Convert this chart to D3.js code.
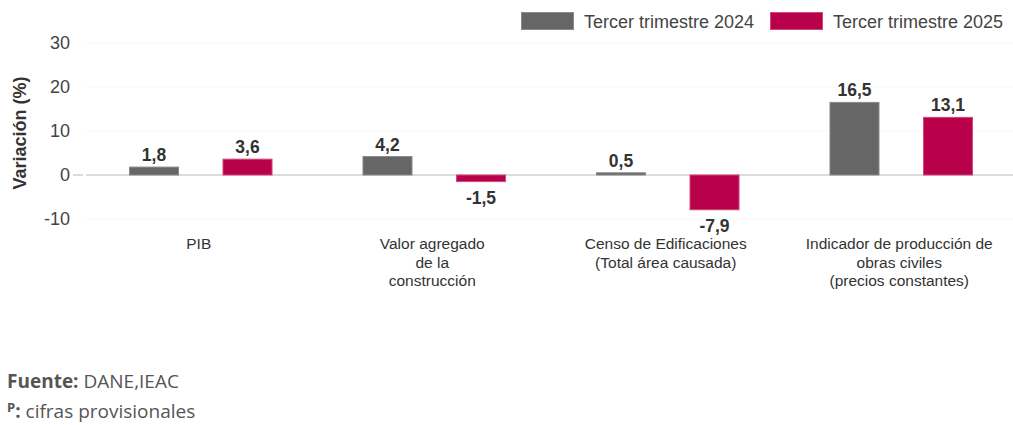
<!DOCTYPE html>
<html>
<head>
<meta charset="utf-8">
<script src="https://cdn.jsdelivr.net/npm/d3@7"></script>
<style>
  body { margin: 0; background: #fff; }
  svg { display: block; }
</style>
</head>
<body>
<div id="chart"></div>
<script>
// data
var categories = ["PIB", "Valor agregado\nde la\nconstrucción", "Censo de Edificaciones\n(Total área causada)", "Indicador de producción de\nobras civiles\n(precios constantes)"];
var seriesNames = ["Tercer trimestre 2024", "Tercer trimestre 2025"];
var values2024 = [1.8, 4.2, 0.5, 16.5];
var values2025 = [3.6, -1.5, -7.9, 13.1];
var yTicks = [-10, 0, 10, 20, 30];

var colors = ["#666666", "#b8004b"];
var strokes = ["#8a8a8a", "#d04a7a"];

var width = 1013, height = 425;

// comma decimals, plain hyphen for negatives
function fmt(v) {
    return d3.format(".1f")(v).replace("−", "-").replace(".", ",");
}

var svg = d3.select("#chart").append("svg")
    .attr("width", width)
    .attr("height", height)
    .style("font-family", "'Liberation Sans', Arial, sans-serif");

var x = d3.scaleBand()
    .domain(categories)
    .range([84, 1018]);

var xInner = d3.scaleBand()
    .domain(seriesNames)
    .range([0, x.bandwidth()])
    .paddingInner(0.465)
    .paddingOuter(0.481);

var y = d3.scaleLinear()
    .domain([-10, 30])
    .range([219, 43]);

// faint gridlines
svg.append("g")
    .selectAll("line")
    .data(yTicks.filter(function(d) { return d != 0; }))
    .enter()
    .append("line")
        .attr("x1", 86)
        .attr("x2", width)
        .attr("y1", function(d) { return y(d); })
        .attr("y2", function(d) { return y(d); })
        .attr("stroke", "#f7f7f7");

// y axis labels
var yAxis = svg.append("g")
    .attr("transform", "translate(70,0)")
    .call(d3.axisLeft(y).tickValues(yTicks).tickSize(0).tickPadding(0)
        .tickFormat(function(d) { return String(d); }));
yAxis.select(".domain").remove();
yAxis.selectAll("text")
    .attr("font-size", "18px")
    .attr("fill", "#444")
    .attr("font-family", "'Liberation Sans', Arial, sans-serif");

// zero tick and line
svg.append("line")
    .attr("x1", 73).attr("x2", 83)
    .attr("y1", y(0)).attr("y2", y(0))
    .attr("stroke", "#d0d0d0").attr("stroke-width", 1.5);
svg.append("line")
    .attr("x1", 86).attr("x2", width)
    .attr("y1", y(0)).attr("y2", y(0))
    .attr("stroke", "#d0d0d0").attr("stroke-width", 1.5);

// y axis title
svg.append("text")
    .attr("transform", "translate(26,133) rotate(-90)")
    .attr("text-anchor", "middle")
    .attr("font-size", "18px")
    .attr("font-weight", "bold")
    .attr("fill", "#333")
    .text("Variación (%)");

// bars
var rows = categories.map(function(c, i) {
    return {cat: c, vals: [
        {name: seriesNames[0], value: values2024[i], k: 0},
        {name: seriesNames[1], value: values2025[i], k: 1}
    ]};
});

var groups = svg.selectAll(".group")
    .data(rows)
    .enter()
    .append("g")
        .attr("class", "group")
        .attr("transform", function(d) { return "translate(" + x(d.cat) + ",0)"; });

groups.selectAll("rect")
    .data(function(d) { return d.vals; })
    .enter()
    .append("rect")
        .attr("x", function(d) { return xInner(d.name) + 0.5; })
        .attr("y", function(d) { return Math.min(y(d.value), y(0)); })
        .attr("width", xInner.bandwidth() - 1)
        .attr("height", function(d) { return Math.abs(y(d.value) - y(0)); })
        .attr("fill", function(d) { return colors[d.k]; })
        .attr("stroke", function(d) { return strokes[d.k]; })
        .attr("stroke-width", 1);

groups.selectAll(".val")
    .data(function(d) { return d.vals; })
    .enter()
    .append("text")
        .attr("class", "val")
        .attr("x", function(d) { return xInner(d.name) + xInner.bandwidth() / 2; })
        .attr("y", function(d) { return d.value >= 0 ? y(d.value) - 6 : y(d.value) + 22; })
        .attr("text-anchor", "middle")
        .attr("font-size", "17.5px")
        .attr("font-weight", "bold")
        .attr("fill", "#333")
        .text(function(d) { return fmt(d.value); });

// category labels
groups.append("text")
    .attr("text-anchor", "middle")
    .attr("font-size", "15.5px")
    .attr("fill", "#333")
    .selectAll("tspan")
    .data(function(d) { return d.cat.split("\n"); })
    .enter()
    .append("tspan")
        .attr("x", x.bandwidth() / 2 - 2)
        .attr("y", function(d, i) { return 249 + i * 18.5; })
        .text(function(d) { return d; });

// legend
var legend = svg.append("g");
var legendX = [521, 770];
seriesNames.forEach(function(s, i) {
    legend.append("rect")
        .attr("x", legendX[i] + 0.5)
        .attr("y", 12.5)
        .attr("width", 52)
        .attr("height", 17)
        .attr("fill", colors[i])
        .attr("stroke", strokes[i]);
    legend.append("text")
        .attr("x", legendX[i] + 63)
        .attr("y", 27.5)
        .attr("font-size", "18px")
        .attr("fill", "#444")
        .text(s);
});

// footer
var foot = svg.append("g")
    .style("font-family", "'Open Sans', sans-serif")
    .attr("fill", "#555");
var f1 = foot.append("text")
    .attr("x", 7).attr("y", 388)
    .attr("font-size", "19px");
f1.append("tspan").attr("font-weight", "bold").text("Fuente: ");
f1.append("tspan").text("DANE,IEAC");
var f2 = foot.append("text")
    .attr("x", 7).attr("y", 418)
    .attr("font-size", "19px");
f2.append("tspan").attr("font-weight", "bold").attr("font-size", "13px").attr("dy", "-6").text("P");
f2.append("tspan").attr("font-weight", "bold").attr("dy", "6").text(":");
f2.append("tspan").text(" cifras provisionales");
</script>
</body>
</html>
